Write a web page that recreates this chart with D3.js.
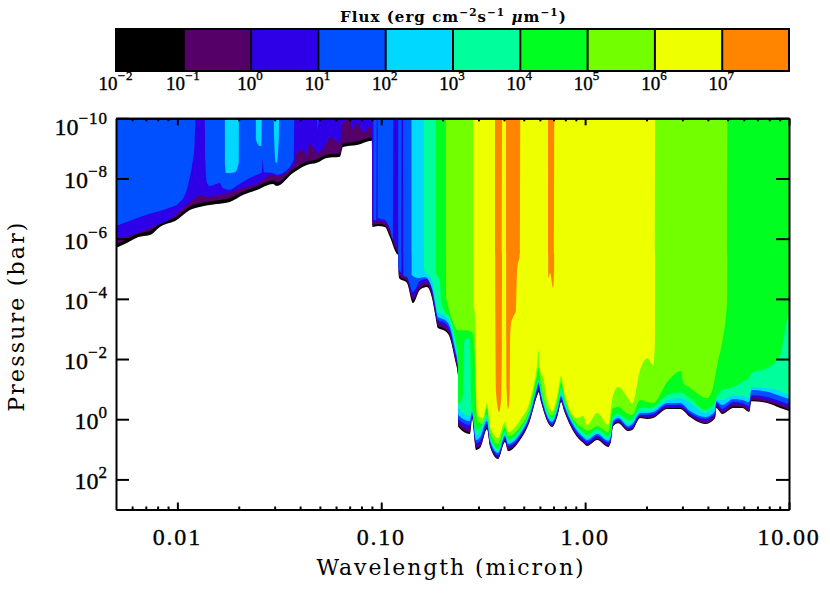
<!DOCTYPE html>
<html><head><meta charset="utf-8">
<script src="https://cdn.jsdelivr.net/npm/d3@7"></script>
<style>html,body{margin:0;background:#fff}svg{display:block}</style></head><body>
<script>
// Flux levels (erg cm-2 s-1 um-1) and the colours of the bands between them
const fluxLevels=[1e-2,1e-1,1e0,1e1,1e2,1e3,1e4,1e5,1e6,1e7,1e8];
const fluxColors=["#000000","#540068","#2e00e8","#0050ff","#00d8ff","#00ff9c","#00ff20","#72ff00","#eeff00","#ff8400"];
const fluxExponents=[-2,-1,0,1,2,3,4,5,6,7];
const pressureExponents=[-10,-8,-6,-4,-2,0,2];
const waveMajor=[0.01,0.1,1,10];
const waveMajorLabels=["0.01","0.10","1.00","10.00"];
const waveMinor=[0.006,0.007,0.008,0.009,0.02,0.03,0.04,0.05,0.06,0.07,0.08,0.09,0.2,0.3,0.4,0.5,0.6,0.7,0.8,0.9,2,3,4,5,6,7,8,9];

// log10 wavelength grids shared by several contours
const waveLeft=[-2.302,-2.248,-2.194,-2.135,-2.086,-2.003,-1.939,-1.875,-1.807,-1.743,-1.679,-1.610,-1.532,-1.512,-1.433,-1.365,-1.316,-1.267,-1.203,-1.188,-1.119,-1.046];
const waveMid=[-1.043,-1.016,-0.982,-0.957,-0.923,-0.918,-0.913,-0.874,-0.844,-0.810,-0.776,-0.751,-0.736,-0.722,-0.687,-0.663,-0.638,-0.623,-0.622];
const waveRight=[-0.565,-0.560,-0.555,-0.535,-0.515,-0.481,-0.466,-0.427,-0.393,-0.378,-0.319,-0.270,-0.236,-0.228,-0.216,-0.162,-0.133,-0.118,-0.103,-0.039,-0.010,0.010,0.059,0.113,0.125,0.137,0.162,0.211,0.231,0.270,0.304,0.334,0.403,0.466,0.515,0.589,0.638,0.643,0.673,0.727,0.771,0.805,0.815,0.893,0.957,1.0];

// log10 pressure (bar) of each flux contour
const pBlack=[-5.69,-5.86,-6.05,-6.12,-6.39,-6.62,-6.95,-7.08,-7.15,-7.22,-7.45,-7.62,-7.82,-7.75,-8.18,-8.45,-8.52,-8.68,-8.72,-9.05,-9.11,-9.25,
 -6.39,-6.42,-6.39,-6.05,-5.49,-5.46,-4.69,-4.53,-3.86,-4.30,-4.39,-4.03,-3.50,-3.03,-2.93,-2.70,-1.97,-1.40,0.26,
 .49,.29,-.04,1.02,.95,.33,.92,1.32,.76,1.06,.69,.03,-.77,-.90,-.57,.26,-.17,-.57,-.27,.59,.78,.89,.69,.92,.78,.23,.13,.39,.36,-.04,-.01,-.04,-.34,-.34,-.07,.16,-.04,-.37,-.17,-.37,-.37,-.24,-.60,-.54,-.37,-.27];
const pPurple=[-5.79,-5.98,-6.17,-6.25,-6.50,-6.73,-7.07,-7.20,-7.27,-7.35,-7.57,-7.74,-7.93,-7.87,-8.30,-8.56,-8.63,-8.80,-8.83,-9.16,-9.23,-9.36,
 -6.45,-6.49,-6.45,-6.15,-5.59,-5.56,-4.76,-4.59,-3.96,-4.36,-4.46,-4.09,-3.56,-3.10,-3.00,-2.76,-2.03,-1.47,0.19,
 .43,.23,-.07,.95,.89,.29,.89,1.29,.72,1.02,.66,-.01,-.80,-.94,-.60,.24,-.21,-.60,-.31,.56,.76,.86,.66,.89,.76,.19,.11,.36,.33,-.07,-.04,-.07,-.37,-.37,-.11,.13,-.07,-.41,-.21,-.42,-.41,-.27,-.64,-.57,-.44,-.31];
const waveIndigoHead=[-2.302,-2.222,-2.124,-2.042,-1.964,-1.880,-1.856,-1.797,-1.733,-1.679,-1.610,-1.532,-1.512,-1.424,-1.414,-1.385,-1.365,-1.351,-1.316,-1.267,-1.252,-1.203,-1.188,-1.154,-1.139,-1.119,-1.090,-1.046];
const pIndigo=[-5.99,-6.12,-6.39,-6.62,-7.05,-7.45,-7.38,-7.45,-7.55,-7.68,-7.82,-8.12,-8.08,-8.51,-8.85,-8.95,-8.78,-9.18,-8.85,-9.18,-9.38,-9.18,-9.88,-9.94,-9.62,-9.85,-9.55,-9.72,
 -6.55,-6.59,-6.55,-6.29,-5.72,-5.69,-4.86,-4.69,-4.06,-4.46,-4.56,-4.19,-3.66,-3.20,-3.10,-2.86,-2.13,-1.54,0.09,
 .33,.13,-.11,.89,.82,.23,.86,1.26,.69,.95,.62,-.04,-.87,-1.00,-.67,.21,-.24,-.64,-.34,.53,.72,.82,.62,.86,.72,.16,.06,.33,.29,-.11,-.07,-.11,-.41,-.41,-.14,.06,-.14,-.47,-.27,-.51,-.47,-.34,-.74,-.64,-.51,-.41];
const waveBlueHead=[-2.302,-2.222,-2.124,-2.042,-1.993,-1.954,-1.939,-1.929,-1.915,-1.910,-1.866,-1.863,-1.856,-1.841,-1.792,-1.777,-1.743,-1.703,-1.645,-1.610,-1.586,-1.581,-1.576,-1.532,-1.512,-1.483,-1.429,-1.426,-1.316,-1.311,-1.306,-1.046,-1.038,-1.037,-1.023,-1.022,-1.018,-1.017,-0.982,-0.957,-0.942,-0.941,-0.917,-0.916,-0.901,-0.900,-0.892,-0.891,-0.874,-0.844,-0.810,-0.776,-0.751,-0.736,-0.722,-0.687,-0.663,-0.638,-0.623,-0.622];
const pBlue=[-6.42,-6.62,-6.85,-7.02,-7.18,-7.62,-8.05,-8.38,-9.18,-10,-10,-8.62,-7.88,-7.75,-7.85,-7.68,-7.62,-7.78,-8.02,-8.12,-8.21,-8.62,-8.21,-8.18,-8.12,-8.18,-8.62,-10,-10,-9.62,-10,-10,-10,-6.62,-6.62,-10,-10,-6.69,-6.62,-6.32,-5.95,-10,-10,-5.02,-4.89,-10,-10,-4.76,-4.73,-4.23,-4.59,-4.66,-4.30,-3.73,-3.30,-3.20,-2.96,-2.23,-1.64,-0.01,
 .19,.03,-.17,.78,.72,.16,.78,1.19,.62,.89,.56,-.11,-.94,-1.10,-.74,.16,-.31,-.70,-.41,.46,.66,.76,.56,.78,.66,.13,.01,.29,.23,-.14,-.14,-.17,-.47,-.47,-.21,-.01,-.21,-.54,-.34,-.57,-.54,-.44,-.80,-.74,-.60,-.50];
const waveCyanHead=[-2.302,-1.767,-1.766,-1.762,-1.718,-1.699,-1.698,-1.615,-1.614,-1.595,-1.588,-1.586,-1.527,-1.526,-1.517,-1.512,-1.502,-1.501,-0.852,-0.851,-0.820,-0.786,-0.761,-0.746,-0.736,-0.722,-0.687,-0.663,-0.638,-0.623,-0.622];
const pCyan=[-10,-10,-8.45,-8.18,-8.21,-8.52,-10,-10,-9.28,-9.08,-9.08,-10,-10,-9.45,-8.52,-8.52,-9.45,-10,-10,-4.79,-4.69,-4.73,-4.53,-4.23,-3.86,-3.40,-3.30,-3.06,-2.33,-1.74,-0.14,
 .06,-.11,-.24,.69,.59,.06,.72,1.12,.56,.82,.49,-.17,-1.04,-1.20,-.80,.09,-.37,-.77,-.47,.39,.59,.69,.49,.72,.59,.06,-.04,.23,.16,-.21,-.21,-.24,-.54,-.54,-.27,-.07,-.27,-.60,-.47,-.67,-.64,-.57,-.97,-.91,-.77,-.67];
const waveTealHead=[-2.302,-0.791,-0.790,-0.751,-0.736,-0.722,-0.687,-0.663,-0.638,-0.623,-0.622];
const pTeal=[-10,-10,-4.96,-4.63,-3.93,-3.56,-3.43,-3.20,-2.47,-1.83,-0.37,
 -.11,-.24,-.31,.53,.43,-.04,.66,1.06,.49,.76,.43,-.24,-1.14,-1.30,-.87,.03,-.47,-.87,-.54,.33,.53,.62,.43,.66,.53,-.01,-.11,.16,.09,-.27,-.27,-.31,-.64,-.70,-.54,-.21,-.47,-.64,-.64,-.80,-.77,-.70,-1.07,-1.04,-.94,-.80];
const waveGreenHead=[-2.302,-.732,-.731,-.712,-.707,-.687,-.663,-.638,-.623,-.622,-.599,-.592];
const waveGreenTail=[0.982,1.0];
const pGreen=[-10,-10,-4.89,-4.56,-3.96,-3.56,-3.36,-2.70,-1.97,-.51,-.80,-2.63,
 -2.70,-.64,-.41,.36,.29,-.17,.56,.99,.39,.69,.36,-.31,-1.14,-1.30,-.97,-.04,-.57,-1.04,-.64,.26,.43,.53,.33,.56,.43,-.11,-.17,.03,-.01,-.37,-.37,-.41,-.80,-.90,-.70,-.31,-.57,-.70,-.97,-1.07,-1.24,-1.37,-1.54,-1.70,-2.13,-3.00,-3.63];
const waveLime=[-2.302,-.683,-.682,-.673,-.648,-.623,-.589,-.555,-.545,-.535,-.530,-.501,-.481,-.466,-.427,-.393,-.378,-.319,-.270,-.236,-.228,-.216,-.162,-.133,-.118,-.103,-.039,-.010,.010,.059,.113,.137,.162,.211,.231,.270,.304,.334,.403,.471,.481,.515,.599,.624,.653,.673,.697,.698,1.0];
const pLime=[-10,-10,-4.09,-3.79,-3.23,-2.96,-2.96,-2.90,-2.47,-.70,.03,.16,-.37,.43,.82,.26,.56,.26,-.41,-1.47,-1.70,-1.14,-.11,-.70,-1.24,-.77,.16,.29,.39,.23,.43,-.37,-.41,-.17,-.14,-.64,-.57,-.54,-1.24,-1.60,-1.20,-1.04,-.70,-.97,-1.97,-2.57,-4.00,-10,-10];
const waveYellow=[-2.302,-.550,-.549,-.540,-.538,-.535,-.530,-.501,-.481,-.466,-.427,-.393,-.378,-.319,-.270,-.236,-.228,-.221,-.206,-.186,-.162,-.133,-.118,-.103,-.039,-.010,.010,.059,.113,.137,.162,.211,.231,.270,.304,.334,.343,.344,1.0];
const pYellow=[-10,-10,-3.96,-3.40,-2.40,-.97,-.14,-.04,-.54,.26,.62,.09,.43,.03,-.64,-1.80,-2.30,-1.64,-1.37,-.64,-.27,-.90,-1.44,-.90,-.04,-.11,.19,-.21,.19,-.80,-1.07,-.70,-.51,-1.64,-2.03,-1.80,-2.63,-10,-10];
const waveOrange=[-2.302,-.442,-.441,-.437,-.422,-.412,-.408,-.407,-.388,-.387,-.385,-.378,-.370,-.368,-.363,-.353,-.339,-.334,-.319,-.318,-.182,-.181,-.172,-.157,-.152,-.151,1.0];
const pOrange=[-10,-10,-4.63,-.87,-.24,-.64,-2.63,-10,-10,-2.63,-.97,-.34,-.80,-2.63,-3.20,-3.40,-3.63,-4.86,-5.62,-10,-10,-4.69,-4.86,-4.36,-4.96,-10,-10];

const contours=[
 [[...waveLeft,...waveMid,...waveRight],pBlack],
 [[...waveLeft,...waveMid,...waveRight],pPurple],
 [[...waveIndigoHead,...waveMid,...waveRight],pIndigo],
 [[...waveBlueHead,...waveRight],pBlue],
 [[...waveCyanHead,...waveRight],pCyan],
 [[...waveTealHead,...waveRight],pTeal],
 [[...waveGreenHead,...waveRight.slice(0,-1),...waveGreenTail],pGreen],
 [waveLime,pLime],
 [waveYellow,pYellow],
 [waveOrange,pOrange]
];

const W=830,H=593;
const svg=d3.select("body").append("svg").attr("width",W).attr("height",H);
const x=d3.scaleLog().domain([0.005,10]).range([116,789]);
const y=d3.scaleLog().domain([1e-10,1e3]).range([118.3,509.5]);
const cb=d3.scaleLog().domain([1e-2,1e8]).range([116,789]);
const NUM="'Liberation Serif',serif",WORD="'DejaVu Serif',serif";

svg.append("defs").append("clipPath").attr("id","plot").append("rect")
 .attr("x",116).attr("y",118.3).attr("width",673).attr("height",391.2);

const area=d3.area().curve(d3.curveMonotoneX).x(d=>x(Math.pow(10,d[0]))).y0(y(1e-10)).y1(d=>y(Math.pow(10,d[1])));
svg.append("g").attr("clip-path","url(#plot)").selectAll("path").data(contours).join("path")
 .attr("fill",(d,i)=>fluxColors[i])
 .attr("d",d=>area(d[0].map((w,i)=>[w,d[1][i]])));

// colour bar
const bar=svg.append("g");
bar.selectAll("rect").data(fluxColors).join("rect")
 .attr("x",(d,i)=>cb(fluxLevels[i])).attr("width",(d,i)=>cb(fluxLevels[i+1])-cb(fluxLevels[i]))
 .attr("y",29).attr("height",42).attr("fill",d=>d);
const barAxis=d3.axisBottom(cb).tickValues(fluxLevels.slice(1,-1)).tickSize(-42).tickFormat("").tickSizeOuter(0);
bar.append("g").attr("transform","translate(0,71)").call(barAxis)
 .call(g=>g.select(".domain").remove())
 .call(g=>g.selectAll("line").attr("stroke","#000").attr("stroke-width",2));
bar.append("rect").attr("x",116).attr("y",29).attr("width",673).attr("height",42)
 .attr("fill","none").attr("stroke","#000").attr("stroke-width",2);

function powerLabel(parent,px,py,exp,size,supSize,raise,anchor){
 const t=parent.append("text").attr("x",px).attr("y",py).attr("text-anchor",anchor)
  .attr("font-family",NUM).attr("font-size",size).attr("fill","#000")
  .attr("stroke","#000").attr("stroke-width",0.35);
 t.append("tspan").text("10");
 t.append("tspan").attr("font-size",supSize).attr("dy",-raise).attr("letter-spacing",1).text(String(exp).replace("-","\u2212"));
}
fluxExponents.forEach((e,i)=>powerLabel(svg,cb(fluxLevels[i]),90,e,19,13,10,"middle"));

// title
const title=svg.append("text").attr("x",340).attr("y",22).attr("font-family",WORD).attr("font-size",15)
 .attr("font-weight","bold").attr("letter-spacing",1.05).attr("fill","#000").attr("xml:space","preserve");
[["Flux (erg cm",0,15],["\u22122",-6,10.5],["s",6,15],["\u22121",-6,10.5],[" ",6,15]].forEach(([s,dy,fs])=>
 title.append("tspan").attr("dy",dy).attr("font-size",fs).text(s));
title.append("tspan").attr("font-style","italic").text("\u03bc");
title.append("tspan").text("m");
title.append("tspan").attr("dy",-6).attr("font-size",10.5).text("\u22121");
title.append("tspan").attr("dy",6).text(")");

// axes: ticks point inward on all four sides
function styleAxis(g){g.selectAll("path,line").attr("stroke","#000").attr("stroke-width",2);return g;}
function tickAxis(gen,scale,values,size,tx,ty){
 const a=gen(scale).tickValues(values).tickSize(size).tickFormat("").tickSizeOuter(0);
 svg.append("g").attr("transform",`translate(${tx},${ty})`).call(a).call(styleAxis);
}
tickAxis(d3.axisBottom,x,waveMajor,-7,0,509.5);
tickAxis(d3.axisBottom,x,waveMinor,-3,0,509.5);
tickAxis(d3.axisTop,x,waveMajor,-7,0,118.3);
tickAxis(d3.axisTop,x,waveMinor,-3,0,118.3);
const pTicks=pressureExponents.map(e=>Math.pow(10,e));
tickAxis(d3.axisLeft,y,pTicks,-13,116,0);
tickAxis(d3.axisRight,y,pTicks,-13,789,0);

waveMajor.forEach((v,i)=>svg.append("text").attr("x",x(v)).attr("y",545).attr("text-anchor","middle")
 .attr("font-family",NUM).attr("font-size",24).attr("letter-spacing",1.8).attr("stroke","#000").attr("stroke-width",0.35)
 .text(waveMajorLabels[i]));
pressureExponents.forEach(e=>powerLabel(svg,108,y(Math.pow(10,e))+(e===-10?17:10),e,24,17,11,"end"));

svg.append("text").attr("x",451).attr("y",575).attr("text-anchor","middle").attr("font-family",WORD)
 .attr("font-size",22).attr("letter-spacing",1.9).text("Wavelength (micron)");
svg.append("text").attr("transform","translate(24,316) rotate(-90)").attr("text-anchor","middle").attr("font-family",WORD)
 .attr("font-size",22).attr("letter-spacing",2.2).text("Pressure (bar)");
</script></body></html>
